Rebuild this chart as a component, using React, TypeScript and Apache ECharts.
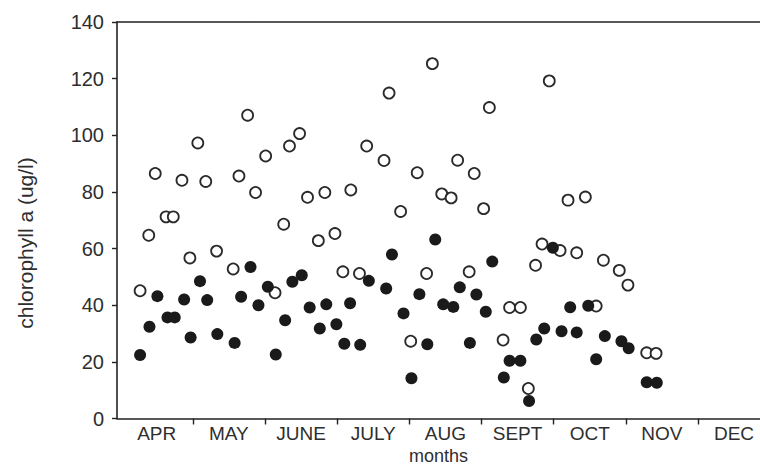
import React, { useEffect, useRef } from "react";
import * as echarts from "echarts";

// month index: 0 = start of April, 1 = start of May, ...
const monthLabels = ["APR", "MAY", "JUNE", "JULY", "AUG", "SEPT", "OCT", "NOV", "DEC"];
const monthBoundaries = [1, 2, 3, 4, 5, 6, 7, 8];
const monthLabelPositions = [0.5, 1.5, 2.5, 3.5, 4.5, 5.5, 6.5, 7.5, 8.5];

// open circles
const openMonth = [
  0.27, 0.39, 0.48, 0.63, 0.73, 0.85, 0.96, 1.07, 1.18, 1.33, 1.56, 1.64, 1.76, 1.87,
  2.01, 2.14, 2.26, 2.34, 2.48, 2.59, 2.74, 2.83, 2.97, 3.08, 3.19, 3.31, 3.41, 3.65,
  3.72, 3.88, 4.02, 4.11, 4.24, 4.32, 4.45, 4.58, 4.67, 4.83, 4.9, 5.03, 5.11, 5.3,
  5.39, 5.54, 5.65, 5.75, 5.84, 5.94, 6.09, 6.2, 6.32, 6.44, 6.59, 6.69, 6.91, 7.03,
  7.29, 7.42,
];
const openValue = [
  45.1, 64.7, 86.5, 71.2, 71.2, 84.1, 56.7, 97.3, 83.7, 59.1, 52.8, 85.6, 107.1, 79.8,
  92.7, 44.4, 68.6, 96.2, 100.6, 78.1, 62.8, 79.8, 65.3, 51.8, 80.7, 51.2, 96.2, 91.1,
  114.9, 73.1, 27.3, 86.8, 51.2, 125.3, 79.3, 77.9, 91.2, 51.8, 86.5, 74.1, 109.8, 27.7,
  39.2, 39.2, 10.6, 54.1, 61.6, 119.2, 59.3, 77.1, 58.5, 78.2, 39.7, 55.9, 52.3, 47.1,
  23.2, 23.0,
];

// filled circles
const filledMonth = [
  0.27, 0.4, 0.51, 0.65, 0.75, 0.88, 0.97, 1.1, 1.2, 1.34, 1.58, 1.67, 1.8, 1.91,
  2.04, 2.15, 2.28, 2.38, 2.51, 2.62, 2.76, 2.85, 2.99, 3.1, 3.18, 3.32, 3.44, 3.68,
  3.76, 3.92, 4.03, 4.14, 4.25, 4.36, 4.47, 4.61, 4.7, 4.84, 4.93, 5.06, 5.15, 5.31,
  5.39, 5.54, 5.66, 5.76, 5.87, 5.99, 6.11, 6.23, 6.32, 6.48, 6.59, 6.71, 6.94, 7.04,
  7.29, 7.43,
];
const filledValue = [
  22.4, 32.4, 43.2, 35.7, 35.7, 42.0, 28.6, 48.5, 41.8, 29.8, 26.7, 43.0, 53.5, 40.0,
  46.5, 22.6, 34.7, 48.3, 50.6, 39.2, 31.8, 40.3, 33.3, 26.4, 40.7, 26.0, 48.6, 45.9,
  57.9, 37.1, 14.2, 43.9, 26.2, 63.2, 40.3, 39.4, 46.3, 26.7, 43.8, 37.7, 55.4, 14.5,
  20.4, 20.4, 6.2, 27.9, 31.8, 60.3, 30.8, 39.3, 30.4, 39.8, 20.9, 29.1, 27.3, 24.8,
  12.8, 12.6,
];

export default function App() {
  const ref = useRef<HTMLDivElement>(null);

  useEffect(() => {
    if (!ref.current) return;
    const chart = echarts.init(ref.current, null, { renderer: "svg" });
    const font = '"Liberation Sans", Arial, Helvetica, sans-serif';
    const axisColor = "#222";
    const textColor = "#2e2e2e";

    chart.setOption({
      animation: false,
      backgroundColor: "#ffffff",
      grid: {
        left: 117,
        right: 0,
        top: 22,
        bottom: 47.5,
        show: false,
        containLabel: false,
        outerBoundsMode: "none",
      },
      xAxis: [
        {
          type: "value",
          min: -0.05,
          max: 8.86,
          position: "bottom",
          axisLine: { show: true, onZero: false, lineStyle: { color: axisColor, width: 1.6 } },
          splitLine: { show: false },
          axisTick: {
            show: true,
            customValues: monthBoundaries,
            length: 6,
            inside: false,
            lineStyle: { color: axisColor, width: 1.4 },
          },
          axisLabel: {
            customValues: monthLabelPositions,
            formatter: (v: number) => monthLabels[Math.round(v - 0.5)] ?? "",
            margin: 5,
            fontSize: 19,
            lineHeight: 19,
            color: textColor,
            fontFamily: font,
          },
          name: "months",
          nameLocation: "middle",
          nameGap: 28,
          nameMoveOverlap: false,
          nameTextStyle: { fontSize: 18, lineHeight: 18, color: textColor, fontFamily: font },
        },
        {
          type: "value",
          min: -0.05,
          max: 8.86,
          position: "top",
          axisLine: { show: true, onZero: false, lineStyle: { color: axisColor, width: 1.6 } },
          axisTick: { show: false },
          axisLabel: { show: false },
          splitLine: { show: false },
        },
      ],
      yAxis: {
        type: "value",
        min: 0,
        max: 140,
        interval: 20,
        axisLine: { show: true, onZero: false, lineStyle: { color: axisColor, width: 1.6 } },
        axisTick: { show: true, length: 5, inside: false, lineStyle: { color: axisColor, width: 1.4 } },
        splitLine: { show: false },
        axisLabel: { margin: 13, fontSize: 20, color: textColor, fontFamily: font },
      },
      graphic: [
        {
          type: "text",
          x: 25,
          y: 243,
          rotation: Math.PI / 2,
          style: {
            text: "chlorophyll a (ug/l)",
            fontSize: 21,
            fontFamily: font,
            fill: textColor,
            textAlign: "center",
            textVerticalAlign: "middle",
          },
        },
      ],
      series: [
        {
          type: "scatter",
          name: "open",
          xAxisIndex: 0,
          symbol: "circle",
          symbolSize: 11,
          itemStyle: { color: "#ffffff", borderColor: "#2a2a2a", borderWidth: 1.8, opacity: 1 },
          data: openMonth.map((m, i) => [m, openValue[i]]),
        },
        {
          type: "scatter",
          name: "filled",
          xAxisIndex: 0,
          symbol: "circle",
          symbolSize: 12,
          itemStyle: { color: "#1a1a1a", opacity: 1 },
          data: filledMonth.map((m, i) => [m, filledValue[i]]),
        },
      ],
    });

    return () => chart.dispose();
  }, []);

  return (
    <div
      ref={ref}
      style={{ position: "fixed", left: 0, top: 0, width: 760, height: 466, background: "#fff" }}
    />
  );
}
